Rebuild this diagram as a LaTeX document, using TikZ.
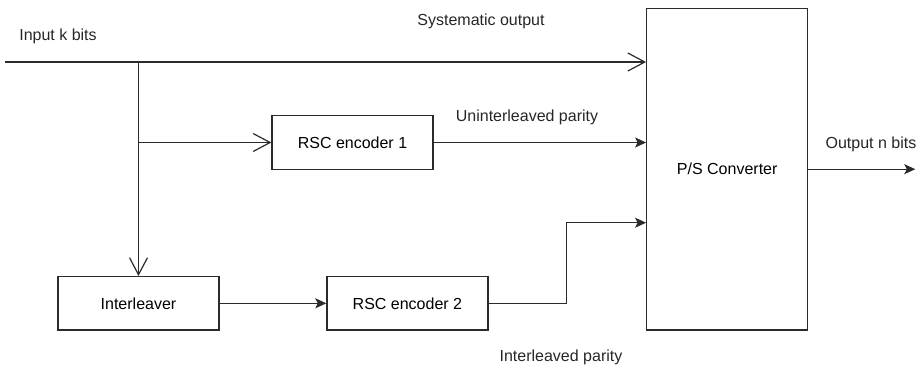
\documentclass[tikz,border=0pt]{standalone}
\usepackage{fontspec}
\setmainfont{Liberation Sans}
\usetikzlibrary{positioning,arrows.meta,calc}
\definecolor{wire}{HTML}{2B2B2B}
\tikzset{
  blk/.style={draw=wire, line width=1.2pt, fill=white, align=center,
              minimum width=161pt, minimum height=53.5pt, inner sep=0pt},
  lbl/.style={inner sep=0pt, text=black!85},
  link/.style={draw=wire, line width=1.2pt},
  openarr/.style={link, -{Straight Barb[length=17pt,width=18pt,line width=1.2pt]}},
  fillarr/.style={link, -{Stealth[length=11pt,width=10pt,inset=2.5pt]}},
}

\begin{document}
\begin{tikzpicture}[x=1pt, y=-1pt, font=\fontsize{16}{19}\selectfont]
\useasboundingbox (0,0) rectangle (918,367);
% blocks
\node[blk, minimum height=321.7pt] (psc) at (727.2,169.2) {P/S Converter};
\node[blk] (enc1) at (352.5,142.5) {RSC encoder 1};
\node[blk] (ilv) at (138.5,303.3) {Interleaver};
\node[blk, right=106.7pt of ilv] (enc2) {RSC encoder 2};
% helper points
\coordinate (in) at (5,62);
\coordinate (tap) at (138.5,62);
\coordinate (bend) at (566.7,222.7);
% connectors
\draw[openarr] (in) -- (psc.west |- in);
\draw[openarr] (tap) -- (ilv.north);
\draw[openarr] (tap |- enc1.west) -- (enc1.west);
\draw[fillarr] (enc1.east) -- (psc.west |- enc1.east);
\draw[fillarr] (ilv.east) -- (enc2.west);
\draw[fillarr] (enc2.east) -- (enc2.east -| bend) -- (bend) -- (psc.west |- bend);
\draw[fillarr] (psc.east) -- ++(107,0) coordinate (out);
% labels
\node[lbl] (lin) at (58,36) {Input k bits};
\node[lbl] (lsys) at (481,21) {Systematic output};
\node[lbl] (lunp) at (527,117) {Uninterleaved parity};
\node[lbl, anchor=east] (lout) at (916.5,144) {Output n bits};
\node[lbl] (lilp) at (561,357) {Interleaved parity};
\end{tikzpicture}
\end{document}
